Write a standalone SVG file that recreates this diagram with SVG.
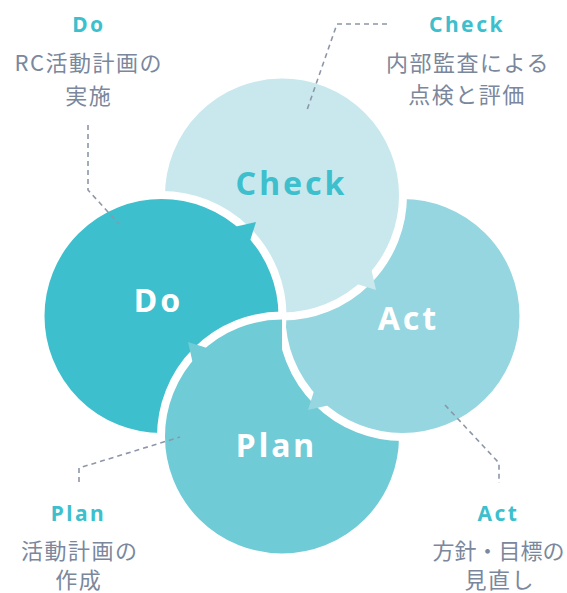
<svg xmlns="http://www.w3.org/2000/svg" xmlns:xlink="http://www.w3.org/1999/xlink" width="567" height="593" viewBox="0 0 567 593">
<style>
.c{stroke:#ffffff;stroke-width:8}
.f-check{fill:#C8E8EE}
.f-act{fill:#95D6E0}
.f-plan{fill:#6FCBD6}
.f-do{fill:#3DBFCD}
.lbl{font-family:"Noto Sans","DejaVu Sans",sans-serif;font-weight:700;font-size:32px;letter-spacing:3px;text-anchor:middle;fill:#ffffff}
.ttl{font-family:"Noto Sans","DejaVu Sans",sans-serif;font-weight:700;font-size:21px;letter-spacing:2.5px;text-anchor:middle;fill:#3DBFCD}
.dsc{font-family:"Noto Sans CJK JP","Noto Sans",sans-serif;font-size:22px;letter-spacing:1.5px;text-anchor:middle;fill:#7A879C}
.lead{fill:none;stroke:#8D97A8;stroke-width:1.6;stroke-dasharray:5 4}
</style>
<defs>
<clipPath id="leftHalf"><rect x="0" y="300" width="282" height="293"/></clipPath>
</defs>

<g id="plan">
<circle class="c f-plan" cx="282" cy="436.5" r="121"/>
<text class="lbl" x="276.5" y="457">Plan</text>
</g>
<g id="act">
<circle class="c f-act" cx="402.5" cy="316" r="121"/>
<text class="lbl" x="408.5" y="330">Act</text>
</g>
<g id="check">
<circle class="c f-check" cx="282" cy="195.5" r="121"/>
<text class="lbl" x="291.5" y="195" style="fill:#3DBFCD">Check</text>
</g>
<g id="do">
<circle class="c f-do" cx="161.5" cy="316" r="121"/>
<text class="lbl" x="158.5" y="312">Do</text>
</g>
<use id="plan-over-do" xlink:href="#plan" clip-path="url(#leftHalf)"/>

<g id="flow-arrows">
<polygon class="f-do" points="234,227 256,222 250,241"/>
<polygon class="f-check" points="371,268 376,290 357,284"/>
<polygon class="f-act" points="330,405 308,410 314,391"/>
<polygon class="f-plan" points="193,364 188,342 207,348"/>
</g>

<g id="connectors">
<polyline class="lead" points="88,125 88,190 119,224"/>
<polyline class="lead" points="387,24 337,24 307,110"/>
<polyline class="lead" points="79,482 79,468 180,437"/>
<polyline class="lead" points="445,405 499,463 499,483"/>
</g>

<g id="desc-do">
<text class="ttl" x="89" y="32">Do</text>
<text class="dsc" x="88.8" y="71">RC活動計画の</text>
<text class="dsc" x="88.8" y="104">実施</text>
</g>
<g id="desc-check">
<text class="ttl" x="467" y="32">Check</text>
<text class="dsc" x="468" y="71">内部監査による</text>
<text class="dsc" x="467" y="103">点検と評価</text>
</g>
<g id="desc-plan">
<text class="ttl" x="78.5" y="521">Plan</text>
<text class="dsc" x="79.8" y="559">活動計画の</text>
<text class="dsc" x="78.8" y="588">作成</text>
</g>
<g id="desc-act">
<text class="ttl" x="498.5" y="521">Act</text>
<text class="dsc" x="498.5" y="559" style="letter-spacing:0">方針・目標の</text>
<text class="dsc" x="499.8" y="588">見直し</text>
</g>
</svg>
